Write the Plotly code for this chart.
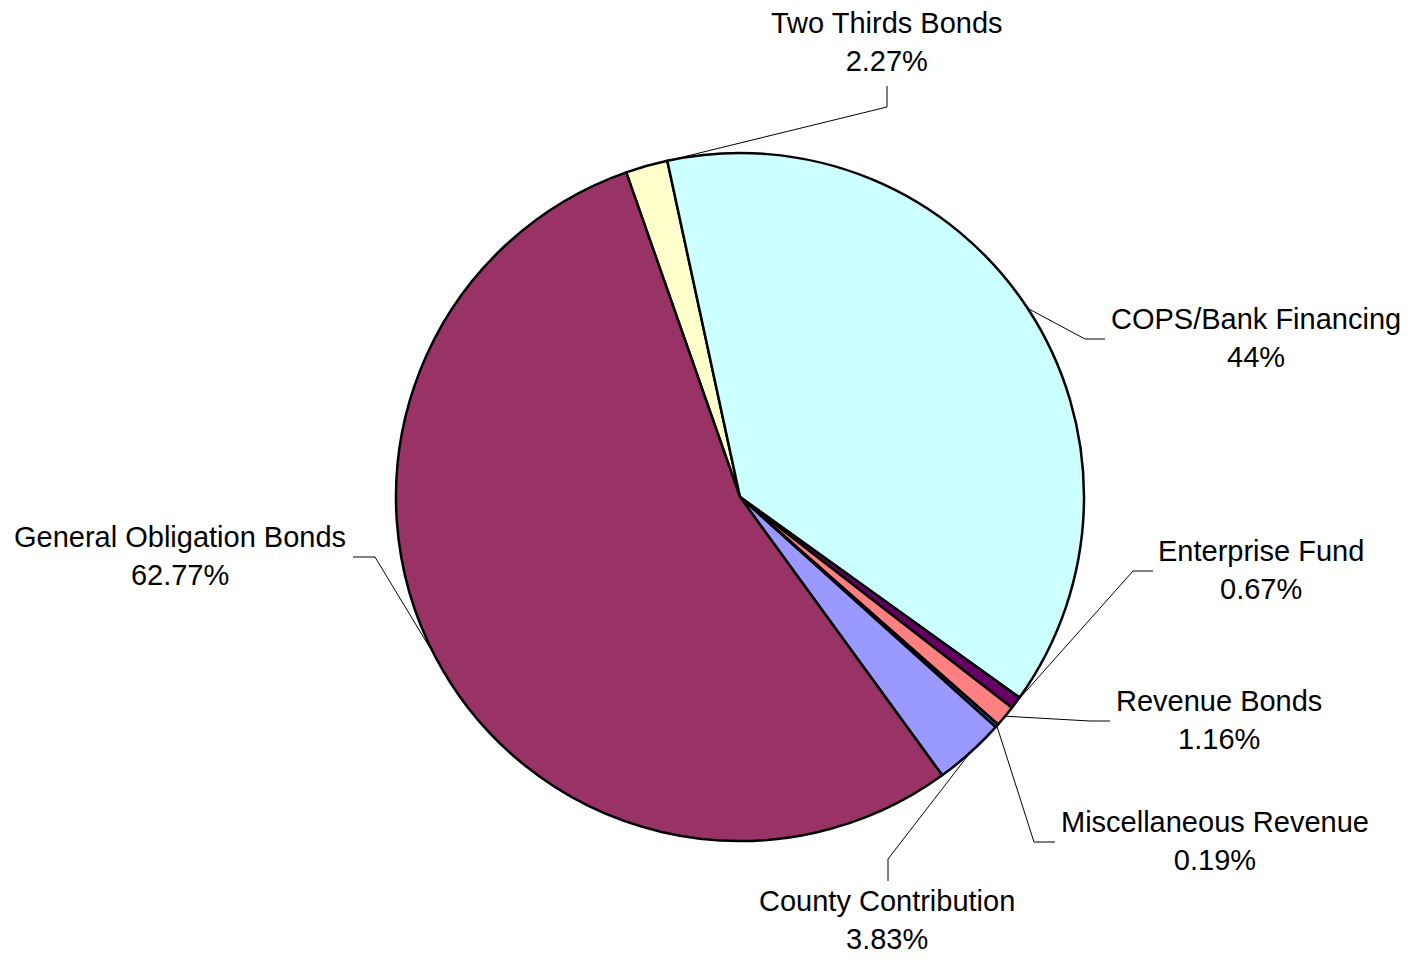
import math
import plotly.graph_objects as go

# Funding sources, listed clockwise starting after General Obligation Bonds
sources = [
    "Two Thirds Bonds",
    "COPS/Bank Financing",
    "Enterprise Fund",
    "Revenue Bonds",
    "Miscellaneous Revenue",
    "County Contribution",
    "General Obligation Bonds",
]
shares = [2.27, 44.0, 0.67, 1.16, 0.19, 3.83, 62.77]
colors = ["#FFFFCC", "#CCFFFF", "#660066", "#FF8080", "#0066CC", "#9999FF", "#993366"]

# ---- layout geometry (pixels) ----
W, H = 1410, 960
CX, CY, R = 740, 497, 344
FONT = "Arial, Liberation Sans, sans-serif"

# label block centres
label_x = [887, 1256, 1261, 1219, 1215, 887, 180]
label_y = [42, 338, 570, 720, 841, 920, 556]
# leader line knee and end points next to each label
knee_x = [887, 1085, 1133, 1090, 1034, 888, 375]
knee_y = [107, 339, 571, 721, 842, 859, 557]
end_x = [887, 1105, 1153, 1110, 1055, 888, 353]
end_y = [86, 339, 571, 721, 842, 881, 557]

total = sum(shares)
# place the end of County Contribution at 144 degrees clockwise from 12 o'clock
county_end = 144.0
start_angle = county_end - sum(shares[:6]) / total * 360.0

fig = go.Figure()

fig.add_trace(go.Pie(
    labels=sources,
    values=shares,
    sort=False,
    direction="clockwise",
    rotation=start_angle,
    marker=dict(colors=colors, line=dict(color="#000000", width=2.5)),
    textinfo="none",
    hoverinfo="label+value",
    showlegend=False,
    domain=dict(
        x=[(CX - R) / W, (CX + R) / W],
        y=[1 - (CY + R) / H, 1 - (CY - R) / H],
    ),
))

# leader lines from each slice's outer edge to its label
acc = 0.0
for i, v in enumerate(shares):
    mid = start_angle + (acc + v / 2.0) / total * 360.0
    acc += v
    a = math.radians(mid)
    sx = CX + R * math.sin(a)
    sy = CY - R * math.cos(a)
    fig.add_trace(go.Scatter(
        x=[sx, knee_x[i], end_x[i]],
        y=[sy, knee_y[i], end_y[i]],
        mode="lines",
        line=dict(color="#000000", width=1),
        hoverinfo="skip",
        showlegend=False,
    ))

for i, name in enumerate(sources):
    fig.add_annotation(
        x=label_x[i] / W,
        y=1 - label_y[i] / H,
        xref="paper",
        yref="paper",
        text=f"{name}<br>{shares[i]:g}%",
        showarrow=False,
        xanchor="center",
        yanchor="middle",
        align="center",
        font=dict(family=FONT, size=29, color="#000000"),
    )

fig.update_layout(
    width=W,
    height=H,
    margin=dict(l=0, r=0, t=0, b=0),
    paper_bgcolor="#FFFFFF",
    plot_bgcolor="rgba(0,0,0,0)",
    xaxis=dict(range=[0, W], visible=False, fixedrange=True),
    yaxis=dict(range=[H, 0], visible=False, fixedrange=True),
)

fig.write_html("out.html")
